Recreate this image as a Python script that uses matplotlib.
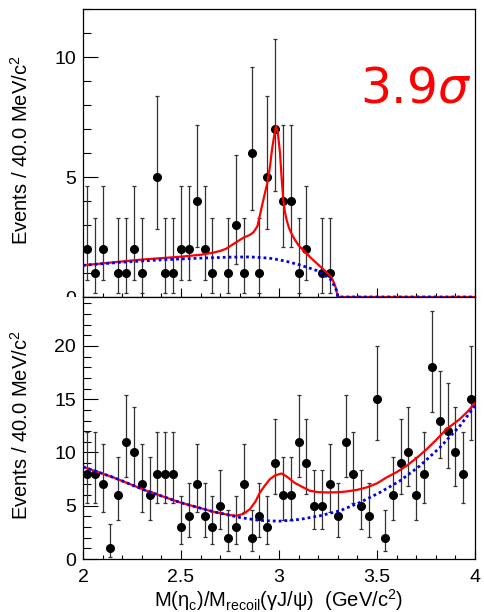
import math
import numpy as np
import matplotlib
matplotlib.use('Agg')
import matplotlib.pyplot as plt
from matplotlib.patches import Rectangle
from matplotlib.ticker import MultipleLocator, FormatStrFormatter

plt.rcParams['font.family'] = ['Liberation Sans', 'DejaVu Sans']

# 50 bins of 40 MeV from 2.0 to 4.0 GeV
bin_edges = np.linspace(2.0, 4.0, 51)
bin_centers = 0.5 * (bin_edges[:-1] + bin_edges[1:])

# counts per bin, upper panel (eta_c)
counts_top = [2, 1, 2, 0, 1, 1, 2, 1, 0, 5,
              1, 1, 2, 2, 4, 2, 1, 0, 1, 3,
              1, 6, 1, 5, 7, 4, 4, 1, 2, 0,
              1, 1, 0, 0, 0, 0, 0, 0, 0, 0,
              0, 0, 0, 0, 0, 0, 0, 0, 0, 0]

# counts per bin, lower panel (recoil mass)
counts_bot = [8, 8, 7, 1, 6, 11, 10, 7, 6, 8,
              8, 8, 3, 4, 7, 4, 3, 5, 2, 3,
              7, 2, 4, 3, 9, 6, 6, 11, 9, 5,
              5, 7, 4, 11, 8, 5, 4, 15, 2, 6,
              9, 10, 6, 8, 18, 13, 12, 10, 8, 15]

# fit curves
top_total_x = [2.00, 2.10, 2.20, 2.30, 2.40, 2.50, 2.60, 2.66, 2.70, 2.73,
               2.77, 2.82, 2.85, 2.87, 2.89, 2.92, 2.94, 2.954, 2.964, 2.975,
               2.985, 2.993, 3.000, 3.005, 3.013, 3.022, 3.030, 3.039, 3.050,
               3.065, 3.08, 3.10, 3.13, 3.16, 3.20, 3.24, 3.265, 3.28, 3.29,
               3.30, 4.00]
top_total_y = [1.32, 1.40, 1.48, 1.56, 1.62, 1.68, 1.76, 1.84, 1.92, 2.01,
               2.22, 2.48, 2.58, 2.70, 2.95, 4.04, 4.74, 5.43, 6.13, 6.70,
               7.12, 6.90, 6.40, 6.00, 5.01, 4.04, 3.55, 3.21, 2.90,
               2.62, 2.40, 2.15, 1.90, 1.65, 1.35, 1.05, 0.85, 0.60, 0.38,
               0.0, 0.0]

top_bkg_x = [2.00, 2.20, 2.40, 2.60, 2.75, 2.85, 2.95, 3.00, 3.05, 3.10,
             3.15, 3.19, 3.23, 3.26, 3.28, 3.295, 3.30, 4.00]
top_bkg_y = [1.32, 1.45, 1.55, 1.62, 1.66, 1.67, 1.62, 1.55, 1.46, 1.35,
             1.22, 1.11, 0.92, 0.76, 0.50, 0.25, 0.0, 0.0]

bot_total_x = [2.00, 2.155, 2.325, 2.495, 2.665, 2.75, 2.784, 2.82, 2.852, 2.88,
               2.903, 2.93, 2.954, 2.98, 3.013, 3.035, 3.056, 3.08, 3.107, 3.158,
               3.20, 3.243, 3.30, 3.345, 3.40, 3.447, 3.50, 3.549, 3.60, 3.651,
               3.70, 3.753, 3.80, 3.855, 3.92, 3.96, 4.00]
bot_total_y = [8.66, 7.66, 6.40, 5.31, 4.44, 4.12, 4.06, 4.25, 4.69, 5.40,
               6.25, 6.95, 7.50, 7.85, 8.03, 7.80, 7.50, 7.15, 6.88, 6.40,
               6.28, 6.25, 6.27, 6.34, 6.50, 6.72, 7.10, 7.66, 8.15, 8.75,
               9.45, 10.30, 11.15, 12.20, 13.10, 13.80, 14.65]

bot_bkg_x = [2.00, 2.155, 2.325, 2.495, 2.665, 2.80, 2.90, 3.00, 3.107, 3.209,
             3.311, 3.413, 3.515, 3.617, 3.719, 3.821, 3.923, 4.00]
bot_bkg_y = [8.66, 7.66, 6.40, 5.31, 4.44, 3.90, 3.62, 3.55, 3.72, 4.06,
             4.53, 5.31, 6.25, 7.34, 8.75, 10.47, 12.50, 14.40]


def pois_cdf(n, mu):
    s = 0.0
    term = math.exp(-mu)
    for k in range(n + 1):
        if k > 0:
            term *= mu / k
        s += term
    return s


def garwood(n, alpha=0.158655):
    # 68% poisson interval, like ROOT's kPoisson errors
    def solve(f, target):
        lo, hi = 0.0, n + 60.0
        for _ in range(80):
            mid = 0.5 * (lo + hi)
            if f(mid) > target:
                lo = mid
            else:
                hi = mid
        return 0.5 * (lo + hi)
    low = 0.0 if n == 0 else solve(lambda m: pois_cdf(n - 1, m), 1 - alpha)
    up = solve(lambda m: pois_cdf(n, m), alpha)
    return n - low, up - n


def draw_points(ax, counts):
    c = np.array(counts)
    keep = c > 0
    errs = np.array([garwood(int(n)) for n in c[keep]]).T
    ax.errorbar(bin_centers[keep], c[keep], yerr=errs, fmt='o', color='black',
                ms=5.5, ecolor='#333333', elinewidth=0.9, capsize=1.5,
                capthick=0.9, zorder=3)


def style_axis(ax, ymax, ymajor):
    ax.set_xlim(2, 4)
    ax.set_ylim(0, ymax)
    ax.xaxis.set_major_locator(MultipleLocator(0.5))
    ax.xaxis.set_minor_locator(MultipleLocator(0.1))
    ax.xaxis.set_major_formatter(FormatStrFormatter('%g'))
    ax.yaxis.set_major_locator(MultipleLocator(ymajor))
    ax.yaxis.set_minor_locator(MultipleLocator(1))
    ax.tick_params(axis='x', which='major', direction='in', length=6.5, width=0.8,
                   top=False, labelsize=14, pad=7)
    ax.tick_params(axis='x', which='minor', direction='in', length=2.6, width=0.8, top=False)
    ax.tick_params(axis='y', which='major', direction='in', length=10.5, width=0.8,
                   right=False, labelsize=14, pad=5)
    ax.tick_params(axis='y', which='minor', direction='in', length=5.5, width=0.8, right=False)
    for sp in ax.spines.values():
        sp.set_linewidth(0.9)


fig = plt.figure(figsize=(4.84, 6.12), dpi=100)
ax1 = fig.add_axes([83 / 484, 1 - 297 / 612, 392 / 484, 288 / 612])
ax2 = fig.add_axes([83 / 484, 1 - 559 / 612, 392 / 484, 262 / 612])

# upper panel
style_axis(ax1, 12, 5)
ax1.tick_params(axis='x', labelbottom=False)
draw_points(ax1, counts_top)
ax1.plot(top_total_x, top_total_y, color='#ff0000', lw=1.6, zorder=4)
ax1.plot(top_bkg_x, top_bkg_y, color='#0000ee', lw=2.0, ls=(0, (1.0, 1.1)), zorder=5)
ax1.text(0.706, 0.674, r'3.9$\sigma$', transform=ax1.transAxes, color='#ff0000',
         fontsize=35, family='DejaVu Sans', ha='left', va='baseline')

# lower panel
style_axis(ax2, 24.6, 5)
draw_points(ax2, counts_bot)
ax2.plot(bot_total_x, bot_total_y, color='#ff0000', lw=1.6, zorder=4)
ax2.plot(bot_bkg_x, bot_bkg_y, color='#0000ee', lw=2.0, ls=(0, (1.0, 1.1)), zorder=5)
ax2.set_xlabel('M(η$_{\\mathregular{c}}$)/M$_{\\mathregular{recoil}}$(γJ/ψ)  (GeV/c$^{\\mathregular{2}}$)',
               fontsize=14.5, labelpad=1)

ylab = 'Events / 40.0 MeV/c$^{\\mathregular{2}}$'
fig.text(21 / 484, 1 - 150 / 612, ylab, rotation=90, fontsize=14.5, ha='center', va='center')
fig.text(21 / 484, 1 - 425 / 612, ylab, rotation=90, fontsize=14.5, ha='center', va='center')

# the lower pad hides the bottom half of the upper "0"
fig.patches.append(Rectangle((40 / 484, 1 - 318 / 612), 42 / 484, 21 / 612,
                             transform=fig.transFigure, facecolor='white',
                             edgecolor='none', zorder=5))

fig.savefig('out.png', dpi=100)
